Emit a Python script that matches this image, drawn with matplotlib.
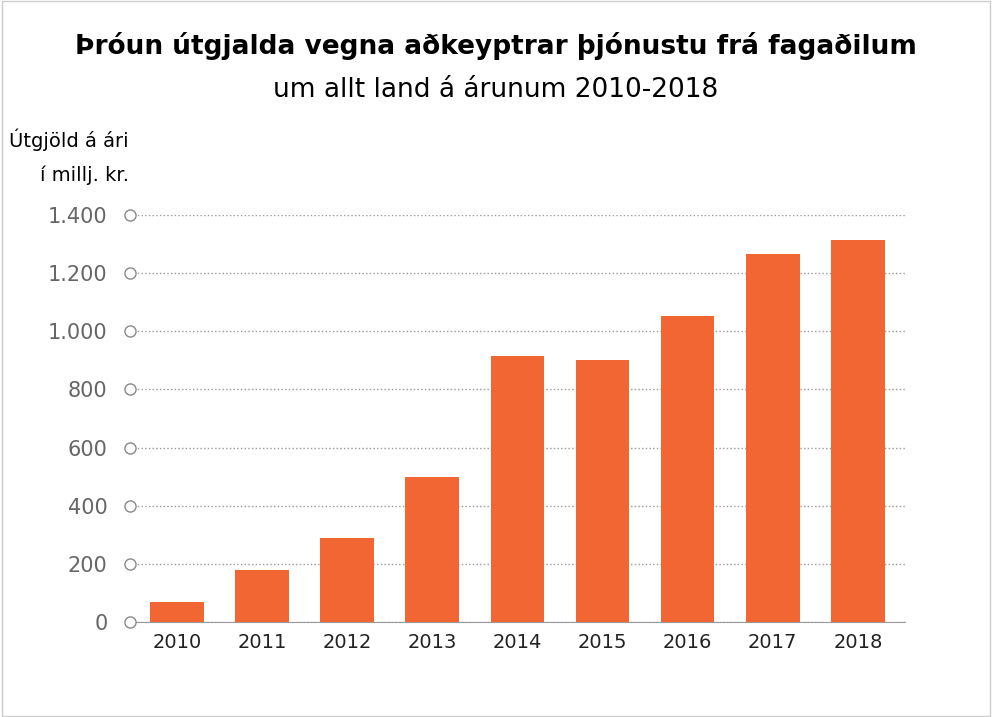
import matplotlib.pyplot as plt
import numpy as np

years = ['2010', '2011', '2012', '2013', '2014', '2015', '2016', '2017', '2018']
values = [70, 179, 289, 499, 915, 903, 1052, 1266, 1314]
yticks = [0, 200, 400, 600, 800, 1000, 1200, 1400]
ytick_labels = ['0', '200', '400', '600', '800', '1.000', '1.200', '1.400']

narrow = ['Liberation Sans Narrow', 'DejaVu Sans']

fig = plt.figure(figsize=(9.92, 7.17), dpi=100)
# light frame around the figure
fig.patches.append(plt.Rectangle((0.002, 0.002), 0.996, 0.996, transform=fig.transFigure,
                                 fill=False, edgecolor='#cccccc', linewidth=1))

ax = fig.add_axes([0.131, 0.1325, 0.781, 0.5675])
x = np.arange(len(years))
ax.bar(x, values, width=0.63, color='#F26633', zorder=3)
ax.set_xlim(-0.55, len(years) - 0.45)
ax.set_ylim(0, 1400)

for s in ['top', 'right', 'left']:
    ax.spines[s].set_visible(False)
ax.spines['bottom'].set_color('#999999')
ax.spines['bottom'].set_linewidth(0.8)

ax.set_yticks(yticks)
ax.set_yticklabels(ytick_labels, fontsize=15, color='#666666')
ax.tick_params(axis='y', length=0, pad=16)
ax.set_xticks(x)
ax.set_xticklabels(years, fontsize=14, family=narrow, color='#222222')
ax.tick_params(axis='x', length=0, pad=8)
ax.grid(axis='y', linestyle=':', color='#999999', linewidth=1, zorder=0)

# circle markers at the y ticks
ax.plot([-0.55] * len(yticks), yticks, 'o', markersize=8, markerfacecolor='white',
        markeredgecolor='#888888', markeredgewidth=1, clip_on=False, zorder=5)

fig.text(0.5, 0.925, 'Þróun útgjalda vegna aðkeyptrar þjónustu frá fagaðilum',
         ha='center', fontsize=19, fontweight='bold', family=narrow)
fig.text(0.5, 0.865, 'um allt land á árunum 2010-2018',
         ha='center', fontsize=19, family=narrow)
fig.text(0.13, 0.795, 'Útgjöld á ári', ha='right', fontsize=14, family=narrow)
fig.text(0.13, 0.747, 'í millj. kr.', ha='right', fontsize=14, family=narrow)

fig.savefig('out.png', dpi=100)
